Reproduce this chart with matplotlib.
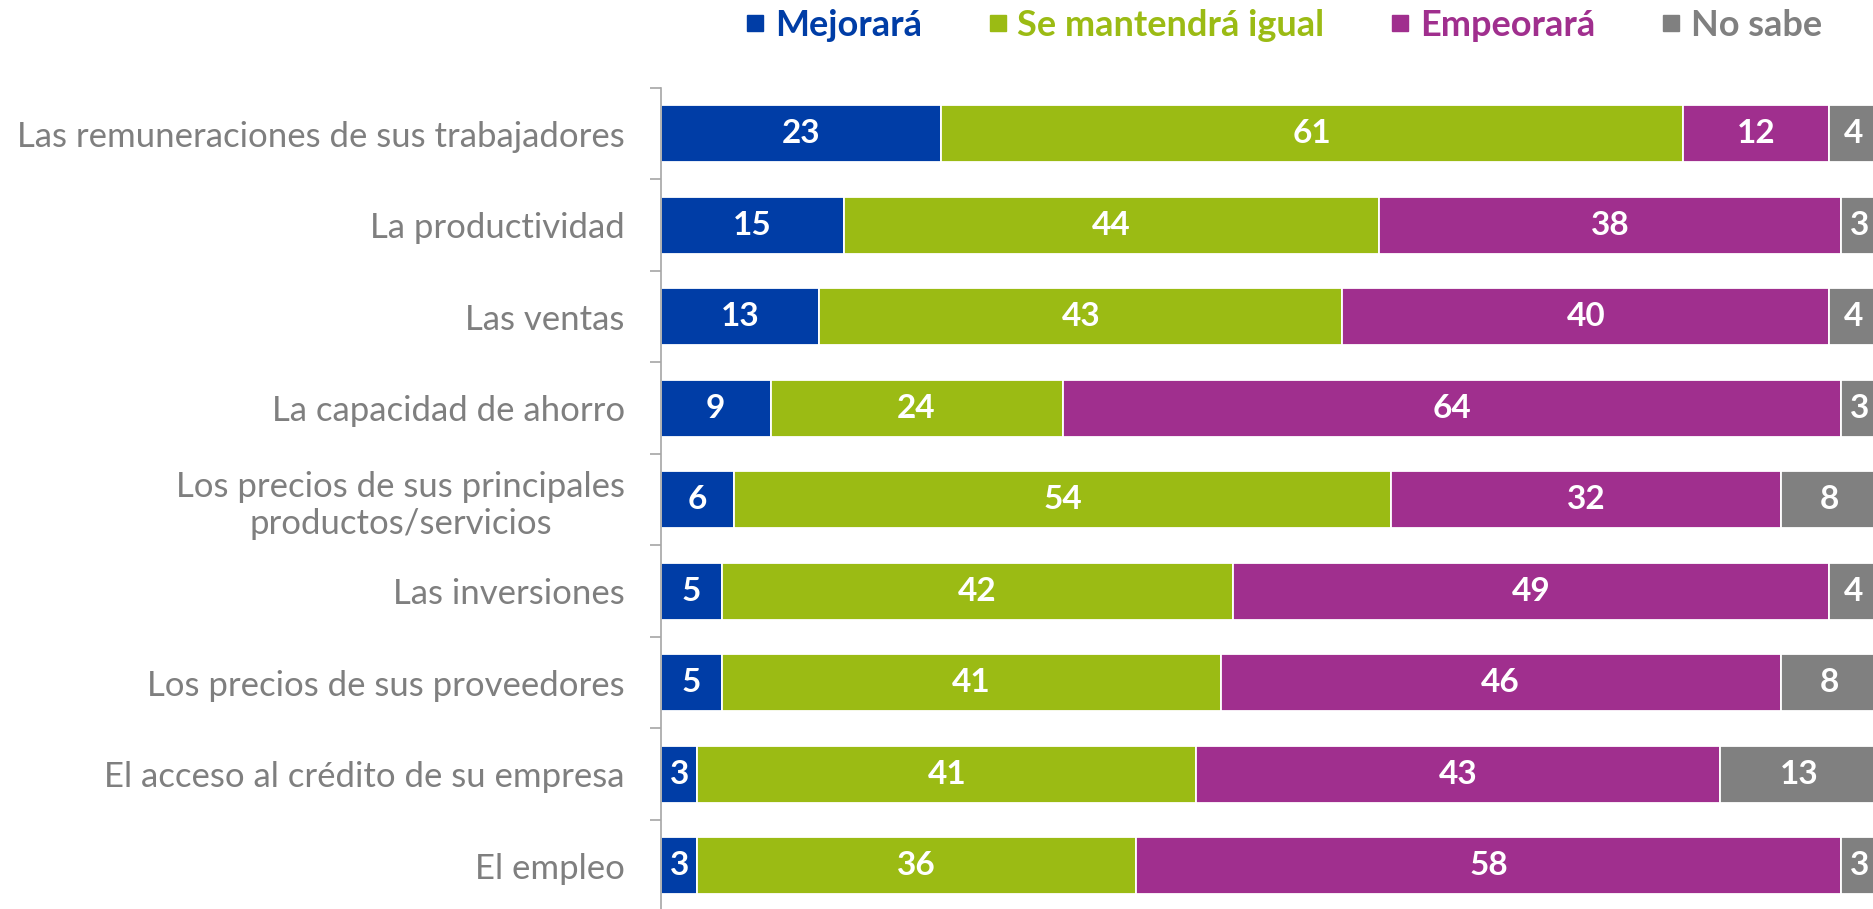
import numpy as np
import matplotlib
matplotlib.use("Agg")
import matplotlib.pyplot as plt
from matplotlib.lines import Line2D

plt.rcParams['font.family'] = ['Lato', 'DejaVu Sans']

categories = [
    "Las remuneraciones de sus trabajadores",
    "La productividad",
    "Las ventas",
    "La capacidad de ahorro",
    "Los precios de sus principales\nproductos/servicios",
    "Las inversiones",
    "Los precios de sus proveedores",
    "El acceso al crédito de su empresa",
    "El empleo",
]
series = ["Mejorará", "Se mantendrá igual", "Empeorará", "No sabe"]
mejorara = [23, 15, 13, 9, 6, 5, 5, 3, 3]
igual = [61, 44, 43, 24, 54, 42, 41, 41, 36]
empeorara = [12, 38, 40, 64, 32, 49, 46, 43, 58]
no_sabe = [4, 3, 4, 3, 8, 4, 8, 13, 3]
colors = ["#003DA6", "#9BBB14", "#A02F8E", "#808080"]

values = [mejorara, igual, empeorara, no_sabe]

fig = plt.figure(figsize=(18.73, 9.09), dpi=100)
ax = fig.add_axes([0.3529, -0.00275, 0.6471, 0.906])

y = np.arange(len(categories))
left = np.zeros(len(categories))
for vals, col in zip(values, colors):
    vals = np.array(vals, dtype=float)
    ax.barh(y, vals, left=left, height=0.62, color=col,
            edgecolor="white", linewidth=1.3)
    for yi, (l, v) in enumerate(zip(left, vals)):
        ax.text(l + v / 2, yi, f"{int(v)}", ha="center", va="center",
                color="white", fontsize=24, fontweight="bold")
    left += vals

ax.set_xlim(0, 99.6)
ax.set_ylim(len(categories) - 0.5, -0.5)

# labels at category centres, tick marks at boundaries
ax.set_yticks(y)
ax.set_yticklabels(categories, fontsize=25, color="#7F7F7F",
                   multialignment="center")
ax.tick_params(axis="y", which="major", length=0, pad=26)
ax.set_yticks(np.arange(-0.5, len(categories)), minor=True)
ax.tick_params(axis="y", which="minor", length=8, width=1.2, color="#A6A6A6")
ax.set_xticks([])

for s in ["top", "right", "bottom"]:
    ax.spines[s].set_visible(False)
ax.spines["left"].set_color("#A6A6A6")
ax.spines["left"].set_linewidth(1.2)

handles = [Line2D([], [], marker="s", linestyle="", markersize=12, color=c)
           for c in colors]
leg = fig.legend(handles, series, loc="center", ncol=4,
                 bbox_to_anchor=(0.6856, 0.972), frameon=False,
                 prop={"size": 26, "weight": "bold"},
                 labelcolor=colors, handlelength=0.5, handletextpad=0.3,
                 columnspacing=1.85, borderaxespad=0)

fig.savefig("out.png", dpi=100)
